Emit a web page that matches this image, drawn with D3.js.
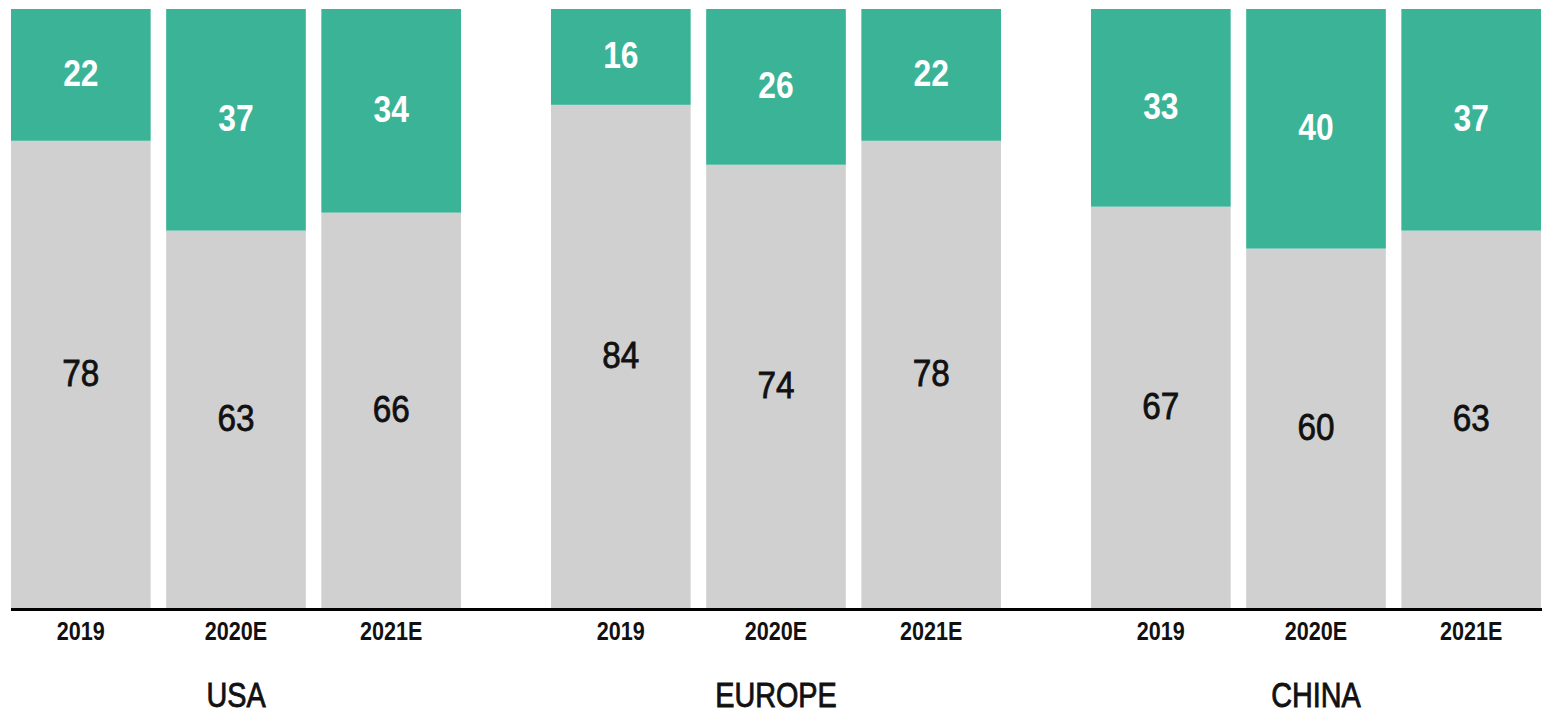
<!DOCTYPE html>
<html>
<head>
<meta charset="utf-8">
<script src="https://cdn.jsdelivr.net/npm/d3@7"></script>
<style>
    body { margin: 0; background: #fff; }
    svg { display: block; }
    text { font-family: "Liberation Sans", Arial, sans-serif; }
</style>
</head>
<body>
<div id="chart-area"></div>
<script>
// 100% stacked bars, three regions x three years
const width = 1542;
const height = 714;

const regions = ["USA", "EUROPE", "CHINA"];
const years = ["2019", "2020E", "2021E"];

// top (teal) share and bottom (gray) share, per region, per year
const topShare = [
    [22, 37, 34],
    [16, 26, 22],
    [33, 40, 37]
];
const bottomShare = [
    [78, 63, 66],
    [84, 74, 78],
    [67, 60, 63]
];

const teal = "#3bb397";
const gray = "#d0d0d0";

const plot = { left: 11, right: 1541, top: 9, bottom: 608 };

const svg = d3.select("#chart-area")
    .append("svg")
        .attr("width", width)
        .attr("height", height);

const xGroup = d3.scaleBand()
    .domain(regions)
    .range([plot.left, plot.right])
    .paddingInner(0.1667);

const xYear = d3.scaleBand()
    .domain(years)
    .range([0, xGroup.bandwidth()])
    .paddingInner(0.1);

const y = d3.scaleLinear()
    .domain([0, 100])
    .range([plot.bottom, plot.top]);

// the source font is condensed, so squeeze text horizontally
function squeezed(sel, sx, fx, fy) {
    return sel.append("text")
        .attr("transform", d => `translate(${fx(d)}, ${fy(d)}) scale(${sx}, 1)`)
        .attr("text-anchor", "middle");
}

// flatten into one row per bar
let rows = [];
regions.forEach((r, i) => {
    years.forEach((yr, j) => {
        rows.push({ region: r, year: yr, bottom: bottomShare[i][j], top: topShare[i][j] });
    });
});

const groups = svg.selectAll(".group")
    .data(regions)
    .enter()
    .append("g")
        .attr("class", "group")
        .attr("transform", d => `translate(${xGroup(d)}, 0)`);

const bars = groups.selectAll(".bar")
    .data(r => rows.filter(d => d.region === r))
    .enter()
    .append("g")
        .attr("class", "bar")
        .attr("transform", d => `translate(${xYear(d.year)}, 0)`);

const cx = xYear.bandwidth() / 2;

// gray part sits on the axis
bars.append("rect")
    .attr("x", 0)
    .attr("width", xYear.bandwidth())
    .attr("y", d => y(d.bottom))
    .attr("height", d => y(0) - y(d.bottom))
    .attr("fill", gray);

// teal part stacked on top
bars.append("rect")
    .attr("x", 0)
    .attr("width", xYear.bandwidth())
    .attr("y", d => y(d.bottom + d.top))
    .attr("height", d => y(d.bottom) - y(d.bottom + d.top))
    .attr("fill", teal);

// medium weight look: regular glyphs with a thin outline
squeezed(bars, 0.9, () => cx, d => (y(0) + y(d.bottom)) / 2 + 12)
    .attr("font-size", 37)
    .attr("fill", "#111")
    .attr("stroke", "#111")
    .attr("stroke-width", 0.8)
    .text(d => d.bottom);

squeezed(bars, 0.86, () => cx, d => (y(d.bottom) + y(d.bottom + d.top)) / 2 + 11)
    .attr("font-size", 37)
    .attr("font-weight", "bold")
    .attr("fill", "#fff")
    .text(d => d.top);

// year labels under each bar
squeezed(bars, 0.83, () => cx, () => 640)
    .attr("font-size", 26)
    .attr("font-weight", "bold")
    .attr("fill", "#111")
    .text(d => d.year);

// region names
squeezed(groups, 0.8, () => xGroup.bandwidth() / 2, () => 707)
    .attr("font-size", 36)
    .attr("fill", "#111")
    .attr("stroke", "#111")
    .attr("stroke-width", 0.9)
    .text(d => d);

// baseline
svg.append("line")
    .attr("x1", plot.left)
    .attr("x2", width)
    .attr("y1", plot.bottom + 1.5)
    .attr("y2", plot.bottom + 1.5)
    .attr("stroke", "#000")
    .attr("stroke-width", 3);
</script>
</body>
</html>
